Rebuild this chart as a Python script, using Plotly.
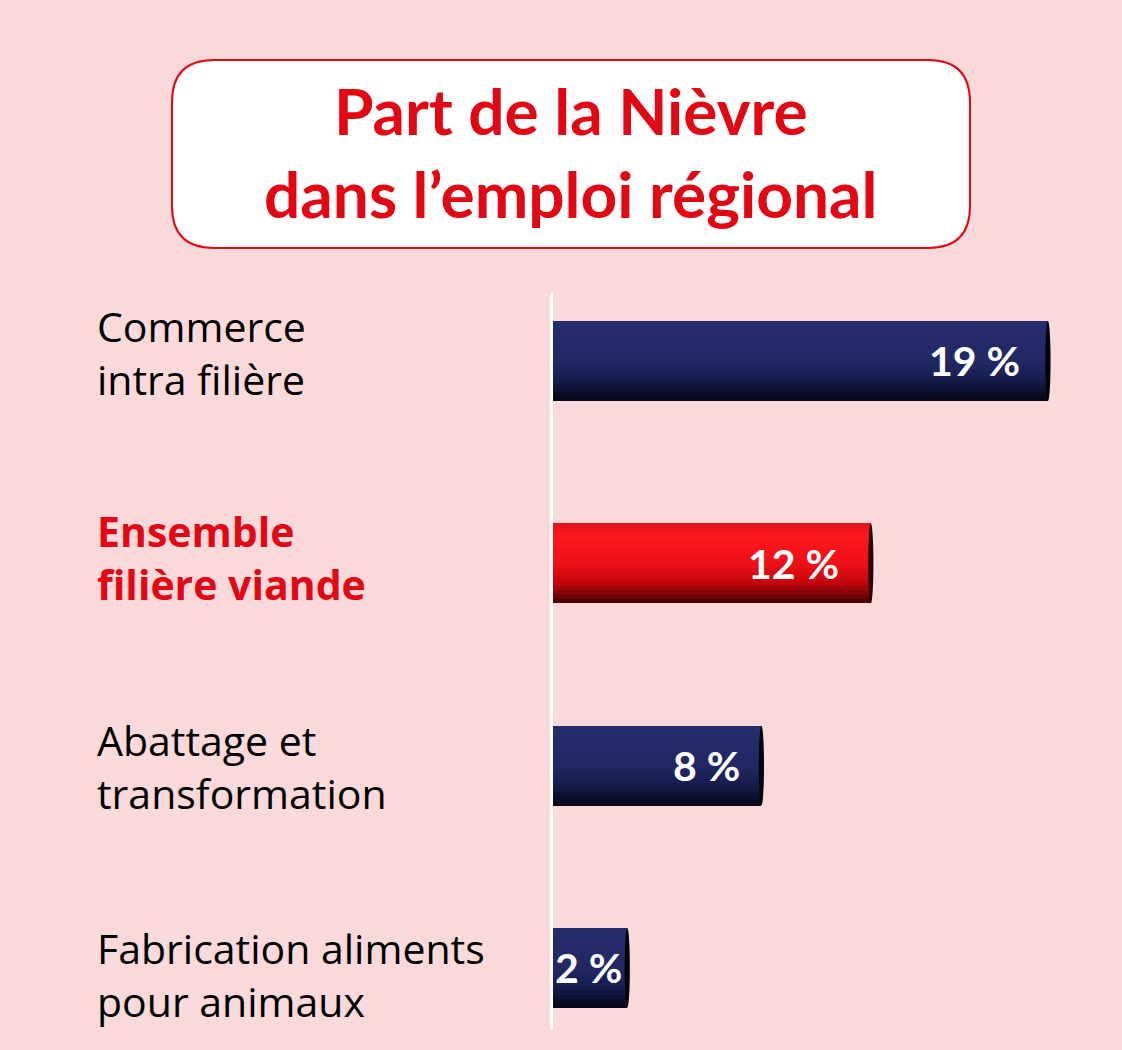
import plotly.graph_objects as go

# ---------------- data ----------------
categories = ["Commerce intra filière",
              "Ensemble filière viande",
              "Abattage et transformation",
              "Fabrication aliments pour animaux"]
category_lines = [["Commerce", "intra filière"],
                  ["Ensemble", "filière viande"],
                  ["Abattage et", "transformation"],
                  ["Fabrication aliments", "pour animaux"]]
values = [19.0, 12.2, 8.0, 2.85]          # bar lengths
value_labels = ["19 %", "12 %", "8 %", "2 %"]
highlight = [False, True, False, False]
title_lines = ["Part de la Nièvre", "dans l’emploi régional"]

# ---------------- style ----------------
BG = "#F9D9DA"
RED = "#E30613"
TITLE_FONT = "Lato"
LABEL_FONT = "Open Sans"
W, H = 1122, 1050
PL, PR, PT, PB = 553, 1100, 293, 1030     # plot area in pixels
BAR_H = 0.395
LABEL_SHIFT = [-26, -30, -19, -3]
LABEL_YSHIFT = [34.5, 31.5, 25, 19.5]     # first line cap-centre above bar centre

navy_stops = [(0.0, (0x26, 0x2D, 0x6B)), (0.5, (0x21, 0x28, 0x64)),
              (0.72, (0x18, 0x1E, 0x50)), (0.88, (0x0D, 0x10, 0x30)),
              (1.0, (0x04, 0x05, 0x16))]
red_stops = [(0.0, (0xE0, 0x14, 0x1C)), (0.15, (0xFF, 0x18, 0x20)),
             (0.5, (0xF0, 0x10, 0x18)), (0.75, (0xC2, 0x06, 0x0C)),
             (0.9, (0x78, 0x02, 0x05)), (1.0, (0x38, 0x00, 0x00))]


def grad(stops, t):
    for (t0, c0), (t1, c1) in zip(stops[:-1], stops[1:]):
        if t0 <= t <= t1:
            u = (t - t0) / (t1 - t0) if t1 > t0 else 0
            c = [round(a + (b - a) * u) for a, b in zip(c0, c1)]
            return "rgb(%d,%d,%d)" % tuple(c)
    return "rgb(%d,%d,%d)" % stops[-1][1]


def px_x(p):
    return (p - PL) / (PR - PL)


def px_y(p):
    return (PB - p) / (PB - PT)


fig = go.Figure()

# gradient bars built from stacked overlay layers
N = 18
for k in range(N):
    f = 1 - k / N
    t = f - 0.5 / N
    colors = [grad(red_stops if h else navy_stops, t) for h in highlight]
    fig.add_trace(go.Bar(
        y=categories, x=values, orientation="h",
        width=BAR_H * f, offset=-BAR_H / 2,
        marker=dict(color=colors, line=dict(width=0)),
        hoverinfo="skip", showlegend=False))

# cylinder end caps
shapes = []
for i, (v, h) in enumerate(zip(values, highlight)):
    shapes.append(dict(type="circle", xref="x", yref="y",
                       x0=v - 0.1, x1=v + 0.1,
                       y0=i - BAR_H / 2, y1=i + BAR_H / 2,
                       fillcolor="#2a0000" if h else "#03030c",
                       line=dict(width=0), layer="above"))

# title box (rounded rectangle)
bx0, bx1, by0, by1, r = 172, 970, 60, 248, 42
path = (f"M {px_x(bx0 + r)} {px_y(by0)} L {px_x(bx1 - r)} {px_y(by0)} "
        f"Q {px_x(bx1)} {px_y(by0)} {px_x(bx1)} {px_y(by0 + r)} "
        f"L {px_x(bx1)} {px_y(by1 - r)} "
        f"Q {px_x(bx1)} {px_y(by1)} {px_x(bx1 - r)} {px_y(by1)} "
        f"L {px_x(bx0 + r)} {px_y(by1)} "
        f"Q {px_x(bx0)} {px_y(by1)} {px_x(bx0)} {px_y(by1 - r)} "
        f"L {px_x(bx0)} {px_y(by0 + r)} "
        f"Q {px_x(bx0)} {px_y(by0)} {px_x(bx0 + r)} {px_y(by0)} Z")
shapes.append(dict(type="path", xref="paper", yref="paper", path=path,
                   fillcolor="white", line=dict(color=RED, width=2),
                   layer="below"))

annotations = []
annotations.append(dict(xref="paper", yref="paper",
                        x=px_x((bx0 + bx1) / 2), y=px_y(152),
                        text="<br>".join(title_lines), showarrow=False,
                        xanchor="center", yanchor="middle", align="center",
                        font=dict(family=TITLE_FONT, size=64, color=RED,
                                  weight="bold")))

for i, (cat, lines, h) in enumerate(zip(categories, category_lines, highlight)):
    annotations.append(dict(xref="paper", yref="y", x=px_x(95), y=cat,
                            text="<br>".join(lines), showarrow=False,
                            xanchor="left", yanchor="middle", align="left",
                            yshift=LABEL_YSHIFT[i] - 2 - 24,
                            font=dict(family=LABEL_FONT, size=41,
                                      color=RED if h else "black",
                                      weight="bold" if h else "normal")))

for i, (cat, v, lab) in enumerate(zip(categories, values, value_labels)):
    annotations.append(dict(xref="x", yref="y", x=v, y=cat, text=lab,
                            showarrow=False, xanchor="right",
                            yanchor="middle", xshift=LABEL_SHIFT[i],
                            font=dict(family=TITLE_FONT, size=41, color="white",
                                      weight="bold")))

fig.update_layout(
    width=W, height=H, barmode="overlay",
    paper_bgcolor=BG, plot_bgcolor=BG,
    margin=dict(l=PL, r=W - PR, t=PT, b=H - PB),
    xaxis=dict(range=[0, (PR - PL) / 26.05], showgrid=False, zeroline=False,
               showticklabels=False, showline=False, fixedrange=True),
    yaxis=dict(type="category", categoryarray=categories,
               range=[3.307, -0.336], showgrid=False, zeroline=False,
               showticklabels=False, showline=True, linecolor="white",
               linewidth=3, ticks=""),
    shapes=shapes, annotations=annotations, bargap=0,
)

fig.write_html("out.html")
